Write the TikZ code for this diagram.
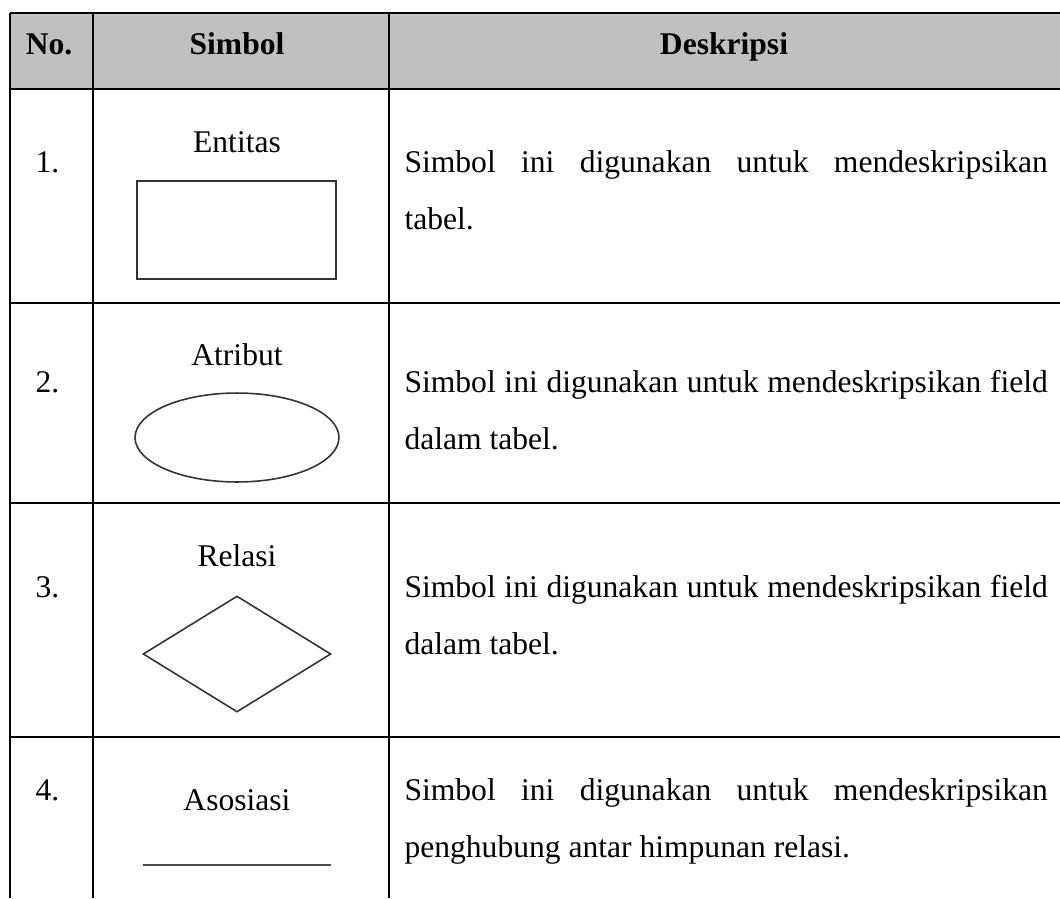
\documentclass[tikz,border=0pt,12pt]{standalone}
\usepackage{fontspec}
\setmainfont{Liberation Serif}
\usetikzlibrary{shapes.geometric}
\definecolor{hdrgray}{HTML}{C0C0C0}

\begin{document}
\begin{tikzpicture}[x=0.38pt,y=-0.38pt,rule/.style={draw=black,line width=0.75pt},hd/.style={font=\bfseries,anchor=base},num/.style={anchor=base west,inner sep=0pt},lbl/.style={anchor=base},desc/.style={anchor=base west,inner sep=0pt,text width=244.5pt,align=justify,font=\fontsize{12}{22}\selectfont},sym/.style={draw=black!80,line width=0.6pt,inner sep=0pt}]
\useasboundingbox (0,0) rectangle (1060,898);
\fill[hdrgray] (10,13) rectangle (1060,89);
\foreach \yy in {13,303,503,737} \draw[rule] (10,\yy)--(1060,\yy);
\draw[rule,line width=1pt] (10,89)--(1060,89);
\foreach \xx in {10,93,389} \draw[rule] (\xx,13)--(\xx,898);
\node[hd] (hno) at (49,54) {No.};
\node[hd] (hsym) at (237,54) {Simbol};
\node[hd] (hdesc) at (724,54) {Deskripsi};
\node[num] (n1) at (35,172) {1.};
\node[num] (n2) at (35,392) {2.};
\node[num] (n3) at (35,597) {3.};
\node[num] (n4) at (35,800) {4.};
\node[lbl] (lent) at (237,152) {Entitas};
\node[lbl] (latr) at (237,365) {Atribut};
\node[lbl] (lrel) at (237,566) {Relasi};
\node[lbl] (laso) at (237,810) {Asosiasi};
\node[sym,minimum width=75.6pt,minimum height=37.2pt] (entbox) at (236.5,230) {};
\node[sym,ellipse,minimum width=77.5pt,minimum height=33.8pt] (atrell) at (237,437.5) {};
\node[sym,diamond,minimum width=71.4pt,minimum height=44.1pt] (reldia) at (237,654) {};
\coordinate (asoL) at (143,865); \coordinate (asoR) at (331,865);
\draw[draw=black!70,line width=1pt] (asoL)--(asoR);
\node[desc] (d1) at (404,172) {Simbol ini digunakan untuk mendeskripsikan\linebreak tabel.};
\node[desc] (d2) at (404,392) {Simbol ini digunakan untuk mendeskripsikan field\linebreak dalam tabel.};
\node[desc] (d3) at (404,597) {Simbol ini digunakan untuk mendeskripsikan field\linebreak dalam tabel.};
\node[desc] (d4) at (404,800) {Simbol ini digunakan untuk mendeskripsikan\linebreak penghubung antar himpunan relasi.};
\end{tikzpicture}
\end{document}
